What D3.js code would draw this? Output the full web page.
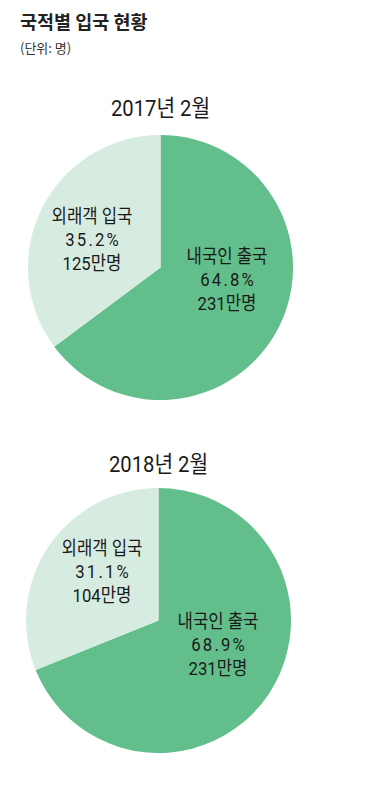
<!DOCTYPE html>
<html><head><meta charset="utf-8">
<script src="https://cdn.jsdelivr.net/npm/d3@7"></script>
<style>
html,body{margin:0;padding:0;background:#fff;}
svg{display:block;}
</style></head>
<body>
<script>
const title = "국적별 입국 현황";
const unitLabel = "(단위: 명)";
const years = ["2017년 2월", "2018년 2월"];
const categories = ["내국인 출국", "외래객 입국"];
const shares2017 = [64.8, 35.2];
const shares2018 = [68.9, 31.1];
const people2017 = ["231만명", "125만명"];
const people2018 = ["231만명", "104만명"];
const colors = ["#62bf8b", "#d7ece0"];

const W = 366, H = 803;
const svg = d3.select("body").append("svg").attr("width", W).attr("height", H);
const kfont = "'Noto Sans CJK KR','Noto Sans',sans-serif";
const nfont = "'Roboto','Noto Sans CJK KR',sans-serif";

svg.append("text").attr("x", 20).attr("y", 29).text(title)
  .attr("font-family", kfont).attr("font-weight", 700).attr("font-size", 18.5).attr("fill", "#222");
svg.append("text").attr("x", 20).attr("y", 53).text(unitLabel)
  .attr("font-family", kfont).attr("font-size", 13).attr("fill", "#333");

const charts = [
  {year: years[0], shares: shares2017, people: people2017, cx: 160.5, cy: 267.5, ty: 116,
   labels: [{x: 227, y: 263}, {x: 92, y: 223}]},
  {year: years[1], shares: shares2018, people: people2018, cx: 158.5, cy: 620.5, ty: 472,
   labels: [{x: 218, y: 628}, {x: 102, y: 555}]}
];

const r = 132.5;
const pie = d3.pie().sort(null).value(d => d);
const arc = d3.arc().innerRadius(0).outerRadius(r);

charts.forEach(c => {
  svg.append("text").attr("text-anchor", "middle")
    .attr("transform", `translate(${c.cx},${c.ty}) scale(0.9,1)`)
    .attr("font-family", nfont).attr("font-size", 22.5).attr("fill", "#1a1a1a").text(c.year);
  const g = svg.append("g").attr("transform", `translate(${c.cx},${c.cy})`);
  g.selectAll("path").data(pie(c.shares)).join("path")
    .attr("d", arc).attr("fill", (d, i) => colors[i]);
  categories.forEach((cat, i) => {
    const lines = [cat, c.shares[i].toFixed(1) + "%", c.people[i]];
    const t = svg.append("text").attr("text-anchor", "middle")
      .attr("transform", `translate(${c.labels[i].x},${c.labels[i].y}) scale(0.88,1)`)
      .attr("font-family", nfont).attr("font-size", 19).attr("fill", "#1a1a1a");
    lines.forEach((ln, j) => {
      const ts = t.append("tspan").attr("x", 0).attr("y", j * 23.3).text(ln);
      if (j === 1) ts.attr("letter-spacing", 2.5).attr("dx", 1.25);
    });
  });
});
</script>
</body></html>
